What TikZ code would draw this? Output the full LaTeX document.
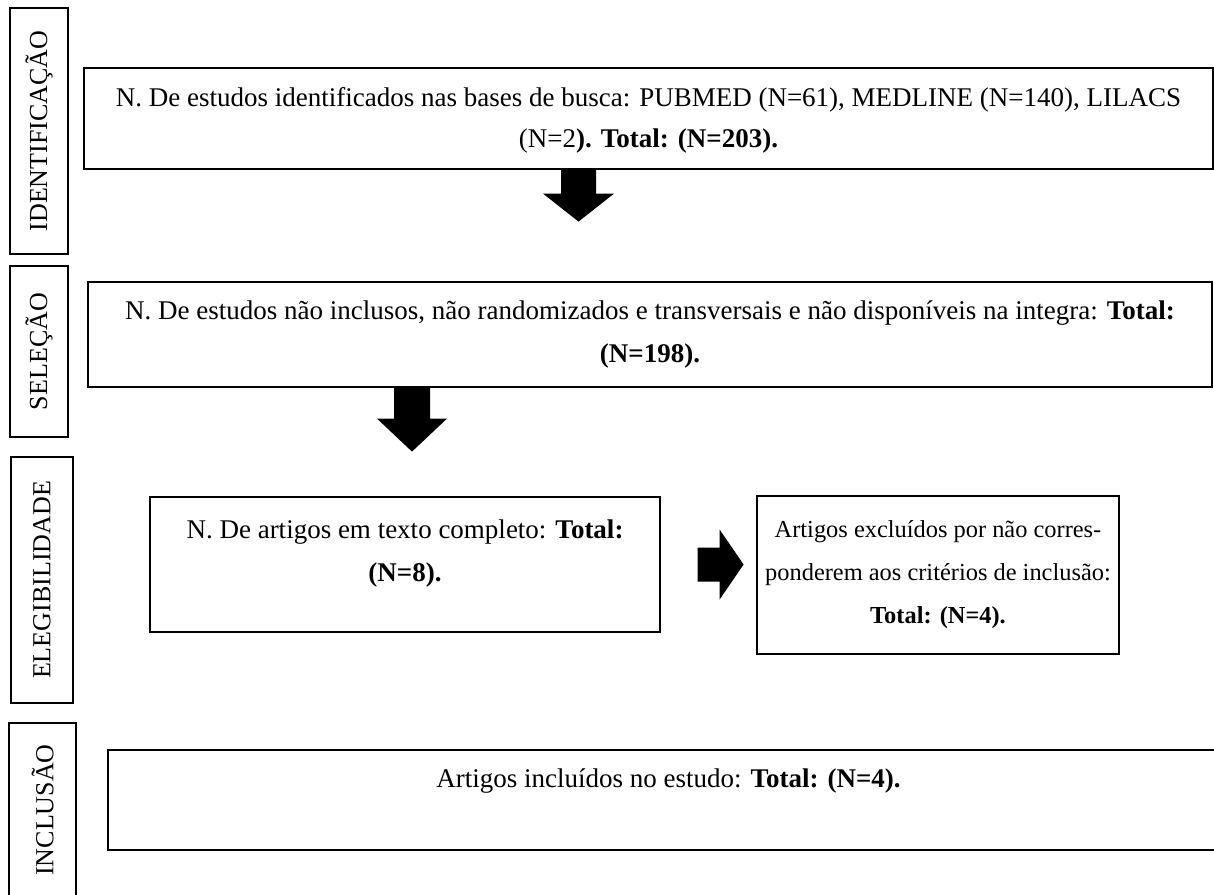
\documentclass[tikz,border=0pt]{standalone}
\usepackage{fontspec}
\setmainfont{Liberation Serif}
\usepackage{tikz}

\begin{document}
\begin{tikzpicture}[x=0.5pt,y=-0.5pt,line width=0.6pt,
                    font=\fontsize{13.5}{21.5}\selectfont]
  \tikzstyle{etapa}=[draw,rotate=90,inner sep=0pt,font=\fontsize{13}{15}\selectfont]
  \tikzstyle{caixa}=[draw,align=center,inner sep=0pt]
  \tikzstyle{seta}=[fill=black,draw=none]

  \useasboundingbox (0,0) rectangle (1214,894);
  \clip (0,0) rectangle (1214,894);

  % etapas
  \node[etapa,minimum width=123pt,minimum height=29pt]   (IDT) at (39,131)   {IDENTIFICAÇÃO};
  \node[etapa,minimum width=85.5pt,minimum height=29pt]  (SEL) at (39,351.5) {SELEÇÃO};
  \node[etapa,minimum width=123pt,minimum height=31pt]   (ELG) at (42,580)   {ELEGIBILIDADE};
  \node[etapa,minimum width=87pt,minimum height=33.5pt]  (INC) at (42.5,810) {INCLUSÃO};

  % caixas
  \node[caixa,minimum width=564.5pt,minimum height=50.5pt] (busca) at (648.5,118.5)
    {N. De estudos identificados nas bases de busca: PUBMED (N=61), MEDLINE (N=140), LILACS\\[-1pt](N=2\textbf{). Total: (N=203).}\\[-20pt]\mbox{}};
  \node[caixa,minimum width=562pt,minimum height=52.5pt]   (triagem) at (650,334.5)
    {N. De estudos não inclusos, não randomizados e transversais e não disponíveis na integra: \textbf{Total:}\\\textbf{(N=198).}};
  \node[caixa,minimum width=255pt,minimum height=67.5pt]   (texto) at (405,564.5)
    {N. De artigos em texto completo: \textbf{Total:}\\\textbf{(N=8).}\\[-8pt]\mbox{}};
  \node[caixa,font=\fontsize{12.2}{21.5}\selectfont,minimum width=181pt,minimum height=79pt] (excl) at (938,575)
    {Artigos excluídos por não corres-\\ponderem aos critérios de inclusão:\\\textbf{Total: (N=4).}};
  \node[caixa,minimum width=560.5pt,minimum height=50pt]   (incl) at (668.5,800)
    {Artigos incluídos no estudo: \textbf{Total: (N=4).}\\\mbox{}};

  % setas
  \fill[seta] (busca.south -| 561,0) -- ++(35,0) -- ++(0,24) -- ++(18,0) -- ++(-35.5,28) -- ++(-35.5,-28) -- ++(18,0) -- cycle;
  \fill[seta] (triagem.south -| 394,0) -- ++(36,0) -- ++(0,31) -- ++(17,0) -- ++(-35,33) -- ++(-35,-33) -- ++(17,0) -- cycle;
  \fill[seta] (texto.east) ++(37,-17) -- ++(22,0) -- ++(0,-18) -- ++(24,35) -- ++(-24,35) -- ++(0,-18) -- ++(-22,0) -- cycle;
\end{tikzpicture}
\end{document}
